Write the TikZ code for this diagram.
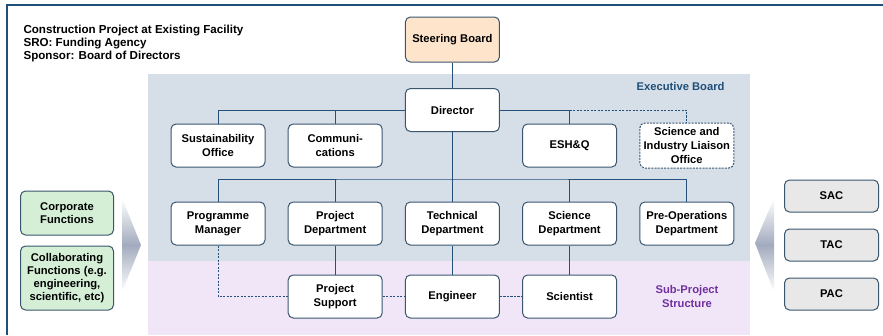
\documentclass[tikz,border=0pt]{standalone}
\usepackage{fontspec}
\setmainfont{Liberation Sans}
\usepackage{tikz}
\usetikzlibrary{arrows}
\usepackage{xcolor}
\definecolor{boxline}{HTML}{3A566F}
\definecolor{wire}{HTML}{24507A}
\definecolor{execfill}{HTML}{D6DFE7}
\definecolor{subfill}{HTML}{F1E6F7}
\definecolor{steerfill}{HTML}{FDE4CB}
\definecolor{corpfill}{HTML}{D4EFD6}
\definecolor{panelfill}{HTML}{E8E8E8}
\definecolor{execblue}{HTML}{1F4E79}
\definecolor{subpurple}{HTML}{7030A0}
\definecolor{chevgray}{HTML}{A2ABBE}

\begin{document}
\begin{tikzpicture}[x=1pt, y=-1pt]
        % orgbox = unit of the project, dorgbox = dashed unit, wire/dwire = links
        \tikzstyle{every node}=[font=\bfseries\fontsize{11.2}{13.7}\selectfont]
        \tikzstyle{orgbox}=[rectangle, rounded corners=5pt, draw=boxline, line width=1pt, fill=white, align=center, minimum width=94pt, minimum height=43pt, inner sep=1pt, node distance=117.2pt]
        \tikzstyle{dorgbox}=[orgbox, dash pattern=on 2pt off 1.2pt]
        \tikzstyle{sidebox}=[orgbox, minimum width=93pt]
        \tikzstyle{wire}=[draw=wire, line width=0.8pt]
        \tikzstyle{dwire}=[wire, dash pattern=on 2.2pt off 1.3pt]
        \tikzstyle{chevron}=[top color=white, bottom color=white, middle color=chevgray]

        \useasboundingbox (0,0) rectangle (883,335);

        % frame and bands
        \draw[execblue, line width=1.3pt] (883,5) -- (7,5) -- (7,335);
        \fill[execfill] (148,74) rectangle (750,261);
        \fill[subfill] (148,261) rectangle (750,335);
        \node[anchor=west, align=left, font=\bfseries\fontsize{11.6}{13}\selectfont] (title) at (20,43) {Construction Project at Existing Facility\\SRO: Funding Agency\\Sponsor: Board of Directors};
        \node[anchor=east, text=execblue] (execlabel) at (728,86) {Executive Board};
        \node[align=center, text=subpurple] (sublabel) at (687,296.5) {Sub-Project\\Structure};

        % side arrows
        \shade[chevron] (122,198) -- (141,245) -- (122,292) -- cycle;
        \shade[chevron] (774,198) -- (755,243) -- (774,292) -- cycle;

        % board and director
        \node[orgbox] (Director) at (452.4,110) {Director};
        \node[orgbox, fill=steerfill, minimum height=45pt] (Steer) [above of = Director, node distance=70.5pt] {Steering Board};

        % offices
        \node[orgbox] (Sust) at (218,145.5) {Sustainability\\Office};
        \node[orgbox] (Comm) [right of = Sust] {Communi-\\cations};
        \node[orgbox] (ESHQ) [right of = Comm, node distance=234.4pt] {ESH\&Q};
        \node[dorgbox, minimum height=45pt] (Liaison) [right of = ESHQ] {Science and\\Industry Liaison\\Office};

        % departments
        \node[orgbox] (ProgMgr) at (218,223.5) {Programme\\Manager};
        \node[orgbox] (ProjDept) [right of = ProgMgr] {Project\\Department};
        \node[orgbox] (Tech) [right of = ProjDept] {Technical\\Department};
        \node[orgbox] (SciDept) [right of = Tech] {Science\\Department};
        \node[orgbox] (PreOps) [right of = SciDept] {Pre-Operations\\Department};

        % sub-project
        \node[orgbox] (ProjSup) [below of = ProjDept, node distance=73pt] {Project\\Support};
        \node[orgbox] (Engineer) [right of = ProjSup] {Engineer};
        \node[orgbox] (Scientist) [right of = Engineer] {Scientist};

        % functions and committees
        \node[sidebox, fill=corpfill, minimum height=44pt] (Corp) at (67,213) {Corporate\\Functions};
        \node[sidebox, fill=corpfill, minimum height=64pt, font=\bfseries\fontsize{11.2}{13}\selectfont] (Collab) at (67,278) {Collaborating\\Functions (e.g.\\engineering,\\scientific, etc)};
        \node[sidebox, fill=panelfill, minimum height=32pt, minimum width=94pt] (SAC) at (831.5,196) {SAC};
        \node[sidebox, fill=panelfill, minimum height=32pt, minimum width=94pt] (TAC) at (831.5,245) {TAC};
        \node[sidebox, fill=panelfill, minimum height=32pt, minimum width=94pt] (PAC) at (831.5,294) {PAC};

        % links
        \draw[wire] (Steer) -- (Director);
        \draw[wire] (Director.west) -| (Sust.north);
        \draw[wire] (Comm.north) -- (Comm.north |- Director.west);
        \draw[wire] (Director.east) -| (ESHQ.north);
        \draw[dwire] (ESHQ.north |- Director.east) -| (Liaison.north);
        \path (Director.south) ++(0,47) coordinate (bus);
        \draw[wire] (Director.south) -- (Tech.north);
        \draw[wire] (ProgMgr.north) |- (bus) -| (PreOps.north);
        \foreach \n in {ProjDept, SciDept}
                \draw[wire] (\n.north) -- (\n.north |- bus);
        \foreach \a/\b in {ProjDept/ProjSup, Tech/Engineer, SciDept/Scientist}
                \draw[wire] (\a) -- (\b);
        \draw[dwire] (ProgMgr.south) |- (ProjSup.west);
        \draw[dwire] (ProjSup) -- (Engineer);
        \draw[dwire] (Engineer) -- (Scientist);
\end{tikzpicture}
\end{document}
